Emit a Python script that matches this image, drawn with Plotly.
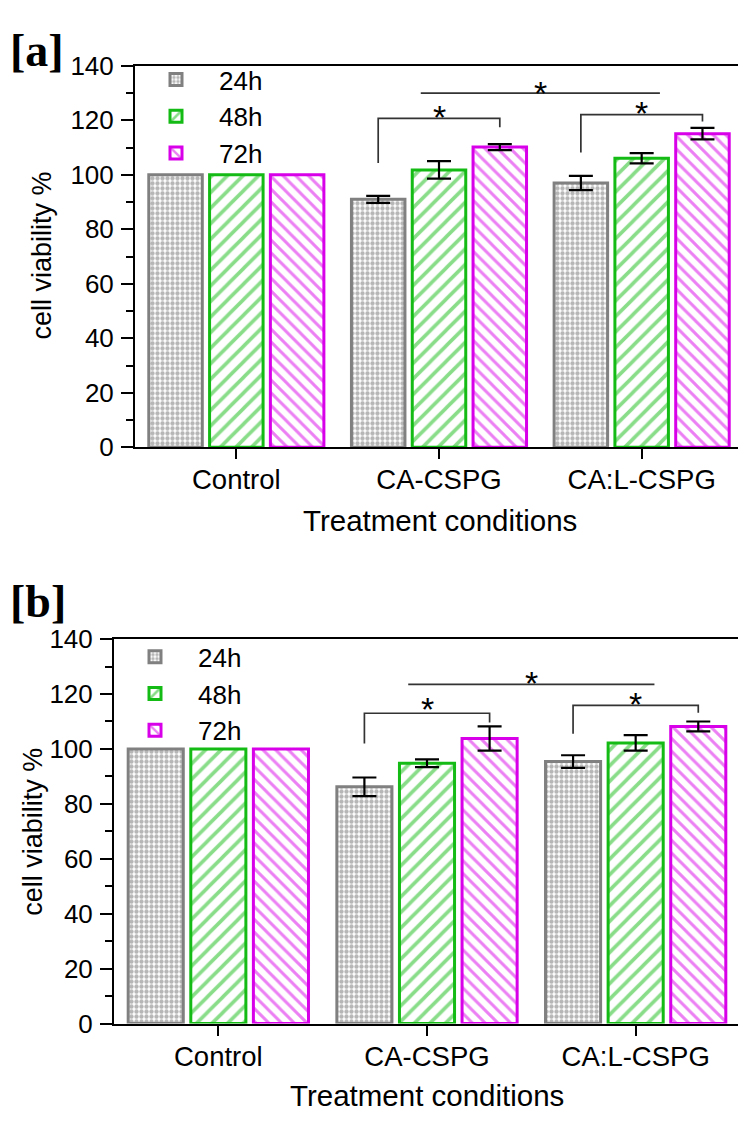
import plotly.graph_objects as go

categories = ["Control", "CA-CSPG", "CA:L-CSPG"]
series_names = ["24h", "48h", "72h"]

# Panel [a]
a_24h = [100, 91.0, 97.0]
a_48h = [100, 101.8, 106.1]
a_72h = [100, 110.2, 115.1]
a_24h_err = [None, 1.3, 2.6]
a_48h_err = [None, 3.2, 1.9]
a_72h_err = [None, 1.1, 2.1]

# Panel [b]
b_24h = [100, 86.2, 95.4]
b_48h = [100, 94.8, 102.2]
b_72h = [100, 103.8, 108.2]
b_24h_err = [None, 3.4, 2.3]
b_48h_err = [None, 1.4, 2.8]
b_72h_err = [None, 4.4, 1.8]

# significance marks: (x_left, x_right, y_top, y_left_end, y_right_end, star_y)
a_sig = [
    (0.70, 1.30, 120.7, 104.3, 117.5, 124.0),
    (0.91, 2.09, 130.0, 130.0, 130.0, 132.9),
    (1.70, 2.30, 122.1, 108.2, 119.6, 125.7),
]
b_sig = [
    (0.70, 1.30, 113.0, 102.0, 109.6, 117.3),
    (0.91, 2.09, 123.5, 123.5, 123.5, 126.8),
    (1.70, 2.30, 115.9, 105.5, 113.2, 119.4),
]

# page has an 8px body margin; lay out in page pixels and convert
OFF = 8
W, H = 746 - OFF, 1132 - OFF

def px_x(p):
    return (p - OFF) / W

def px_y(p):
    return 1 - (p - OFF) / H

FONT = "Liberation Sans, Arial"
line_cols = ["#808080", "#14BB14", "#D800E8"]
patterns = [
    dict(shape=".", fgcolor="#6e6e6e", bgcolor="white", size=5, solidity=0.6),
    dict(shape="/", fgcolor="#14BB14", bgcolor="white", size=11, solidity=0.33),
    dict(shape="\\", fgcolor="#D800E8", bgcolor="white", size=9, solidity=0.33),
]

fig = go.Figure()

panels = [
    dict(vals=[a_24h, a_48h, a_72h], errs=[a_24h_err, a_48h_err, a_72h_err], sig=a_sig,
         xa="x", ya="y", leg="legend"),
    dict(vals=[b_24h, b_48h, b_72h], errs=[b_24h_err, b_48h_err, b_72h_err], sig=b_sig,
         xa="x2", ya="y2", leg="legend2"),
]

for p in panels:
    for i, name in enumerate(series_names):
        vals, errs = p["vals"][i], p["errs"][i]
        idx_e = [k for k, e in enumerate(errs) if e is not None]
        idx_n = [k for k, e in enumerate(errs) if e is None]
        marker = dict(color="white", pattern=patterns[i],
                      line=dict(color=line_cols[i], width=3))
        fig.add_trace(go.Bar(
            x=[categories[k] for k in idx_e], y=[vals[k] for k in idx_e], name=name,
            xaxis=p["xa"], yaxis=p["ya"], legend=p["leg"], offsetgroup=str(i),
            marker=marker, showlegend=True,
            error_y=dict(type="data", array=[errs[k] for k in idx_e], visible=True,
                         color="black", thickness=2.2, width=12),
        ))
        fig.add_trace(go.Bar(
            x=[categories[k] for k in idx_n], y=[vals[k] for k in idx_n], name=name,
            xaxis=p["xa"], yaxis=p["ya"], legend=p["leg"], offsetgroup=str(i),
            marker=marker, showlegend=False,
        ))
    for (x0, x1, yt, yl, yr, ys) in p["sig"]:
        fig.add_shape(type="path", xref=p["xa"], yref=p["ya"],
                      path=f"M {x0},{yl} L {x0},{yt} L {x1},{yt} L {x1},{yr}",
                      line=dict(color="#333333", width=1.7))
        fig.add_annotation(x=(x0 + x1) / 2, y=ys, xref=p["xa"], yref=p["ya"],
                           text="*", showarrow=False, yshift=-8,
                           font=dict(family=FONT, size=34, color="black"))

axis_common = dict(showline=True, linecolor="black", linewidth=2, mirror=True,
                   ticks="outside", tickcolor="black", tickwidth=2, showgrid=False,
                   zeroline=False)

xpx = [(135, 743), (114, 740)]
ypx = [(52, 444), (641, 1036)]

ycommon = dict(range=[0, 140], dtick=20, ticklen=12, tickfont=dict(size=26), ticklabelstandoff=2,
               minor=dict(dtick=10, ticklen=7, tickcolor="black", tickwidth=2, ticks="outside"))
xcommon = dict(type="category", categoryorder="array", categoryarray=categories,
               range=[-0.5, 2.5], ticklen=10, tickfont=dict(size=27.5), ticklabelstandoff=-3)

fig.update_layout(
    width=W, height=H, margin=dict(l=0, r=0, t=0, b=0),
    paper_bgcolor="white", plot_bgcolor="white",
    barmode="group", bargap=0.1, bargroupgap=0.12,
    font=dict(family=FONT, color="black"),
    xaxis=dict(domain=[px_x(xpx[0][0]), px_x(xpx[0][1])], anchor="y", **xcommon, **axis_common),
    yaxis=dict(domain=[px_y(ypx[0][1]), px_y(ypx[0][0])], anchor="x", **ycommon, **axis_common),
    xaxis2=dict(domain=[px_x(xpx[1][0]), px_x(xpx[1][1])], anchor="y2", **xcommon, **axis_common),
    yaxis2=dict(domain=[px_y(ypx[1][1]), px_y(ypx[1][0])], anchor="x2", **ycommon, **axis_common),
    legend=dict(x=px_x(133), y=px_y(42), xanchor="left", yanchor="top",
                font=dict(size=26), bgcolor="rgba(0,0,0,0)", itemwidth=76),
    legend2=dict(x=px_x(112), y=px_y(635), xanchor="left", yanchor="top",
                 font=dict(size=26), bgcolor="rgba(0,0,0,0)", itemwidth=76),
    showlegend=True,
)

texts = [
    dict(text="<b>[a]</b>", x=px_x(8), y=px_y(8), xanchor="left", yanchor="top", size=46,
         family="Liberation Serif"),
    dict(text="<b>[b]</b>", x=px_x(8), y=px_y(574), xanchor="left", yanchor="top", size=46,
         family="Liberation Serif"),
    dict(text="Treatment conditions", x=px_x(440), y=px_y(519), xanchor="center",
         yanchor="middle", size=29.5, family=FONT),
    dict(text="Treatment conditions", x=px_x(427), y=px_y(1110), xanchor="center",
         yanchor="middle", size=29.5, family=FONT),
]
for t in texts:
    fig.add_annotation(text=t["text"], x=t["x"], y=t["y"], xref="paper", yref="paper",
                       xanchor=t["xanchor"], yanchor=t["yanchor"], showarrow=False,
                       font=dict(size=t["size"], family=t["family"], color="black"))

for (xc, yc) in [(42, 247), (33, 839)]:
    fig.add_annotation(text="cell viability %", x=px_x(xc), y=px_y(yc), xref="paper", yref="paper",
                       textangle=-90, showarrow=False, xanchor="center", yanchor="middle",
                       font=dict(size=27, family=FONT, color="black"))

fig.write_html("out.html")
